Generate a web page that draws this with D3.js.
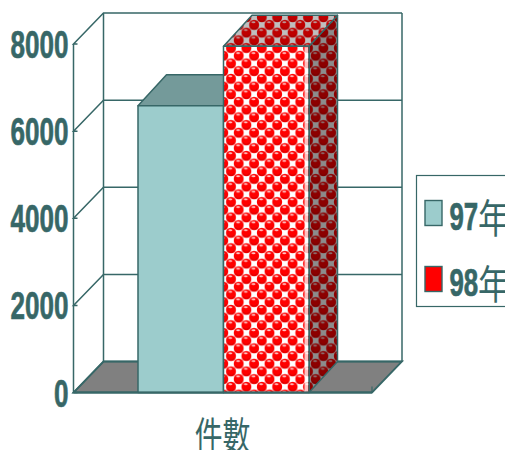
<!DOCTYPE html>
<html><head><meta charset="utf-8">
<script src="https://cdn.jsdelivr.net/npm/d3@7/dist/d3.min.js"></script>
<style>html,body{margin:0;background:#fff}svg{display:block}</style></head>
<body><svg id="c" width="505" height="450"></svg>
<script>
const seriesNames = ["97年", "98年"];
const seriesValues = [6580, 7950];
const categoryName = ["件數"];
const valueTicks = [0, 2000, 4000, 6000, 8000];

const ink = "#376767";
const svg = d3.select("#c");
const y = d3.scaleLinear().domain([0, 8000]).range([392.5, 44]);
const x = d3.scaleBand().domain(seriesNames).range([138, 309]);
const depth = {dx: 28.5, dy: -31};
const left = 73.5, right = 372;
const line = d3.line();
const poly = pts => line(pts) + "Z";

// red balls on a white-square lattice; shade darkens the whole tile for the receding faces
const defs = svg.append("defs");
function tile(id, shade) {
  const s = 15.4, r = 5, q = 6.6;
  const p = defs.append("pattern").attr("id", id).attr("patternUnits", "userSpaceOnUse")
    .attr("width", s).attr("height", s).attr("x", 231).attr("y", 48);
  p.append("rect").attr("width", s).attr("height", s).attr("fill", "#ffb4b4");
  [[s / 2, 0], [s / 2, s], [0, s / 2], [s, s / 2]].forEach(([cx, cy]) => {
    p.append("rect").attr("x", cx - q / 2).attr("y", cy - q / 2).attr("width", q).attr("height", q).attr("fill", "#fff");
  });
  [[0, 0], [s, 0], [0, s], [s, s], [s / 2, s / 2]].forEach(([cx, cy]) => {
    p.append("circle").attr("cx", cx).attr("cy", cy).attr("r", r).attr("fill", "#f00");
    p.append("ellipse").attr("cx", cx - 0.6).attr("cy", cy - 2.6).attr("rx", 2).attr("ry", 0.9)
      .attr("fill", "#ffc4c4");
    p.append("path").attr("d", `M${cx - 3.4},${cy + 2.2}A${r - 1},${r - 1} 0 0 0 ${cx + 3.4},${cy + 2.2}`)
      .attr("fill", "none").attr("stroke", "#d80000").attr("stroke-width", 1);
  });
  if (shade) p.append("rect").attr("width", s).attr("height", s).attr("fill", "#000").attr("opacity", shade);
}
tile("balls", 0);
tile("ballsTop", 0.25);
tile("ballsSide", 0.45);

// floor
svg.append("path")
  .attr("d", poly([[left, y(0)], [right, y(0)], [right + 30, y(0) - 31], [left + 30, y(0) - 31]]))
  .attr("fill", "#808080").attr("stroke", ink).attr("stroke-width", 1.8);

// back wall, side wall and gridlines
const wall = svg.append("g").attr("fill", "none").attr("stroke", ink).attr("stroke-width", 1.5);
valueTicks.forEach(v => {
  wall.append("path").attr("d", line([[left + 4, y(v)], [left, y(v)], [left + 30, y(v) - 31], [right + 30, y(v) - 31]]));
});
wall.append("path").attr("d", line([[left, y(0)], [left, y(8000)]]));
wall.append("path").attr("d", line([[left + 30, y(0) - 31], [left + 30, y(8000) - 31]]));
wall.append("path").attr("d", line([[right + 30, y(0) - 31], [right + 30, y(8000) - 31]]));

// 3-D columns
const faces = [
  {front: "#9ccccc", top: "#749a9a", side: "#749a9a"},
  {front: "url(#balls)", top: "url(#ballsTop)", side: "url(#ballsSide)"}
];
seriesNames.forEach((name, i) => {
  const x0 = x(name), x1 = x0 + x.bandwidth(), yt = y(seriesValues[i]), yb = y(0);
  const g = svg.append("g").attr("stroke", ink).attr("stroke-width", 1.5).attr("stroke-linejoin", "round");
  g.append("path").attr("fill", faces[i].side)
    .attr("d", poly([[x1, yt], [x1 + depth.dx, yt + depth.dy], [x1 + depth.dx, yb + depth.dy], [x1, yb]]));
  g.append("path").attr("fill", faces[i].top)
    .attr("d", poly([[x0, yt], [x0 + depth.dx, yt + depth.dy], [x1 + depth.dx, yt + depth.dy], [x1, yt]]));
  g.append("path").attr("fill", faces[i].front)
    .attr("d", poly([[x0, yt], [x1, yt], [x1, yb], [x0, yb]]));
  // the tile is cut short at the column's right edge, leaving a pale strip
  if (i === 1) {
    g.append("rect").attr("x", x1 - 4.5).attr("y", yt + 1).attr("width", 3.5).attr("height", yb - yt - 2)
      .attr("fill", "#fff").attr("opacity", 0.75).attr("stroke", "none");
  }
});
svg.append("path").attr("d", line([[left, y(0)], [right, y(0)]])).attr("stroke", ink).attr("stroke-width", 2.2);
svg.append("path").attr("d", line([[right, y(0)], [right, y(0) - 6]])).attr("stroke", ink).attr("stroke-width", 1.2);

// value axis labels
const latin = "'Liberation Sans', Arial, sans-serif";
const cjk = "'Noto Sans CJK TC', sans-serif";
svg.append("g").selectAll("text").data(valueTicks).join("text")
  .attr("text-anchor", "end")
  .attr("transform", d => `translate(68.5,${y(d) + 14}) scale(0.677,1)`)
  .attr("font-family", latin).attr("font-weight", "bold").attr("font-size", 38.5)
  .attr("fill", ink).attr("stroke", ink).attr("stroke-width", 0.7).text(d => d);

// category label
svg.append("text").attr("text-anchor", "middle")
  .attr("transform", "translate(222.5,449) scale(0.73,1)")
  .attr("font-family", cjk).attr("font-size", 38).attr("fill", ink).text(categoryName[0]);

// legend
svg.append("rect").attr("x", 416.5).attr("y", 175.5).attr("width", 100).attr("height", 131)
  .attr("fill", "#fff").attr("stroke", ink).attr("stroke-width", 1.2);
const swatch = ["#9ccccc", "#ff0000"];
seriesNames.forEach((name, i) => {
  const cy = 214.5 + i * 66;
  svg.append("rect").attr("x", 425).attr("y", cy - 14).attr("width", 17).attr("height", 25)
    .attr("fill", swatch[i]).attr("stroke", ink).attr("stroke-width", 1.4);
  svg.append("text").attr("transform", `translate(449.5,${cy + 15.5}) scale(0.68,1)`)
    .attr("font-family", latin).attr("font-weight", "bold").attr("font-size", 38)
    .attr("fill", ink).attr("stroke", ink).attr("stroke-width", 0.7).text(name.slice(0, 2));
  svg.append("text").attr("transform", `translate(478,${cy + 18}) scale(0.8,1)`)
    .attr("font-family", cjk).attr("font-size", 40).attr("fill", ink).text(name.slice(2));
});
</script></body></html>
